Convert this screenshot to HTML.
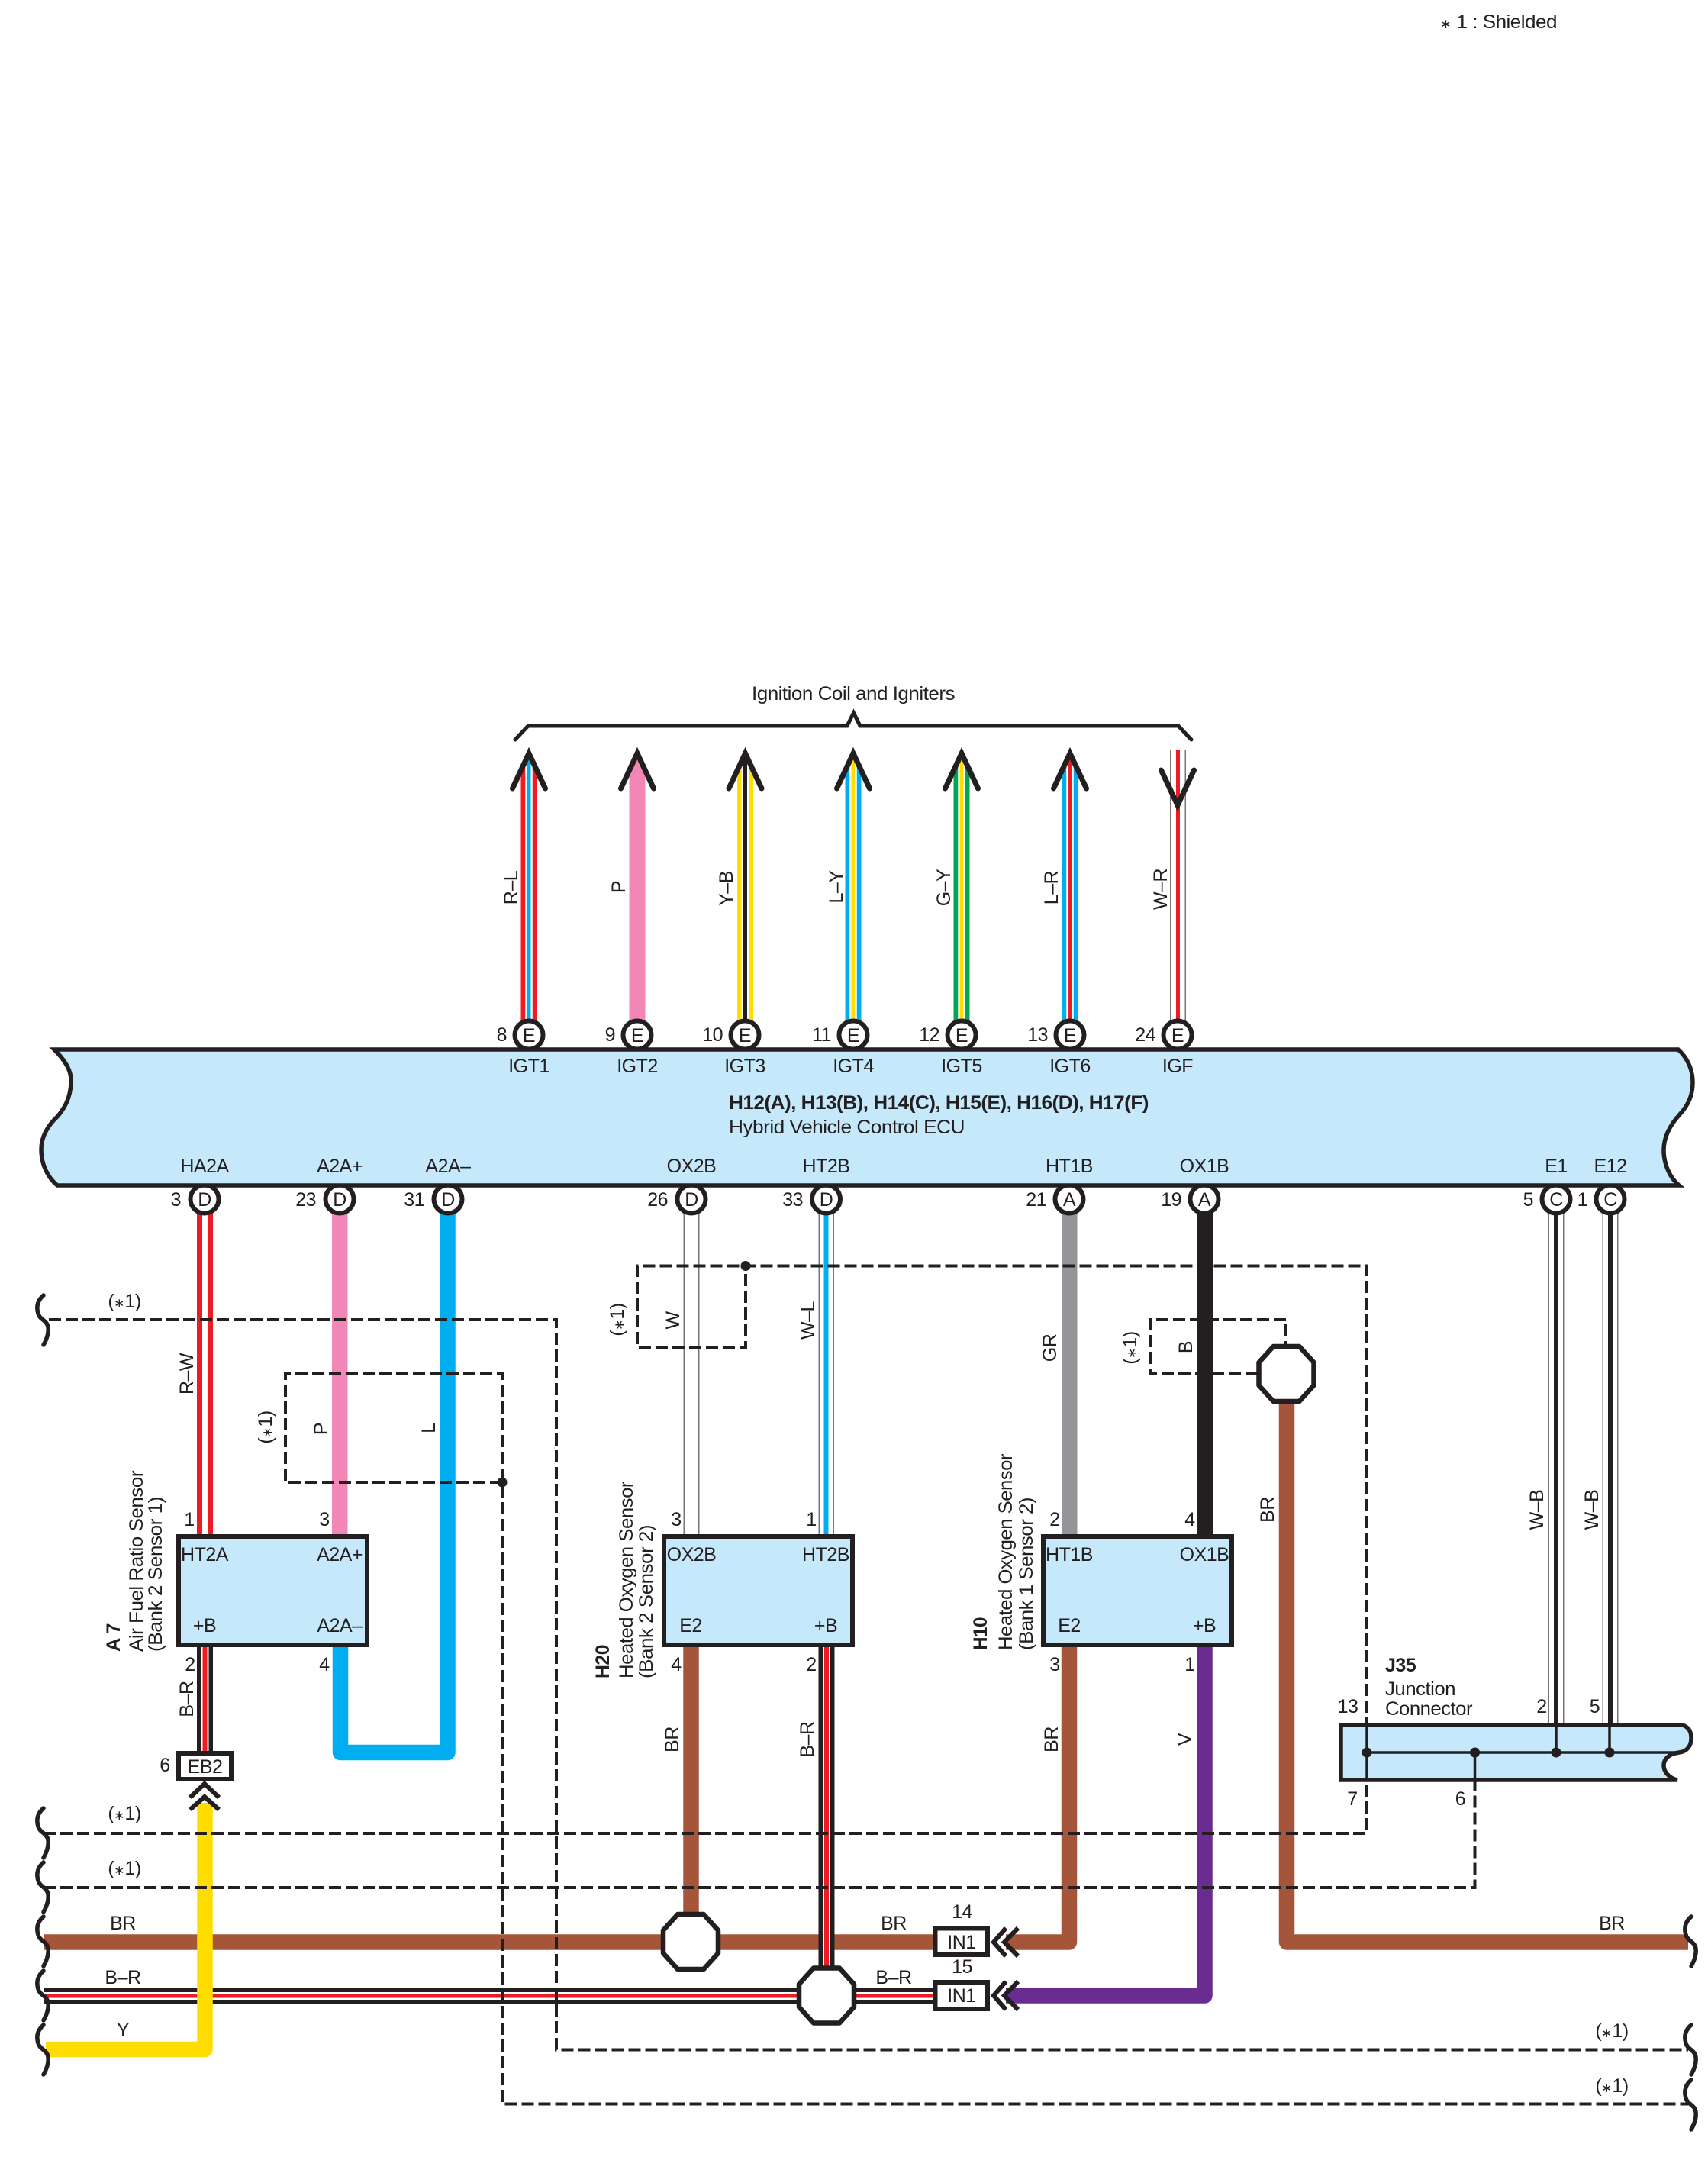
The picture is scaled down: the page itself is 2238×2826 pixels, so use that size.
<!DOCTYPE html>
<html lang="en"><head><meta charset="utf-8"><title>Wiring diagram</title>
<style>
html,body{margin:0;padding:0;background:#fff}
svg{display:block}
text{font-family:"Liberation Sans",Arial,sans-serif;font-size:25px;letter-spacing:-.5px;fill:#231f20}
.m{text-anchor:middle}
.e{text-anchor:end}
.b{font-weight:bold}
.bx{fill:#c5e8fb;stroke:#231f20;stroke-width:6}
.d{fill:none;stroke:#231f20;stroke-width:4;stroke-dasharray:16 6}
.c{fill:#fff;stroke:#231f20;stroke-width:6}
.o{fill:#fff;stroke:#231f20;stroke-width:6.5;stroke-linejoin:round}
.k{fill:none;stroke:#231f20;stroke-width:6}
.a{fill:none;stroke:#231f20;stroke-width:7;stroke-linecap:round;stroke-linejoin:miter}
.w{fill:none;stroke:#231f20;stroke-width:5.5;stroke-linecap:round}
.t{fill:none;stroke-width:20.5;stroke-linejoin:round}
.s{font-size:17px;letter-spacing:0}
</style></head><body>
<svg xmlns="http://www.w3.org/2000/svg" width="2238" height="2826" viewBox="0 0 2238 2826">
<defs>
<clipPath id="ac"><polygon points="0,985 24,1037 24,1345 -24,1345 -24,1037"/></clipPath>
<path id="wv" d="M9 0C2 6 -1 14 2 24C4 32 14 33 15 42C16 50 13 58 9 65" class="w"/>
<polyline id="ua" points="-21.5,1033 0,987 21.5,1033" class="a" stroke-miterlimit="10"/>
<polygon id="oc" points="-17,-36 17,-36 36,-15 36,15 17,36 -17,36 -36,15 -36,-15" class="o"/>
</defs>
<rect width="2238" height="2826" fill="#fff"/>

<!-- note -->
<text x="1887" y="37" textLength="153" lengthAdjust="spacingAndGlyphs" xml:space="preserve" style="white-space:pre"><tspan class="s">∗</tspan> 1 : Shielded</text>

<!-- title brace -->
<text x="1118" y="917" class="m" textLength="266" lengthAdjust="spacingAndGlyphs">Ignition Coil and Igniters</text>
<path d="M675 969L692 951H1110L1118.5 934L1127 951H1544L1561 969" class="k" stroke-linecap="round" style="stroke-width:5"/>

<!-- top wires -->
<g transform="translate(693,0)" clip-path="url(#ac)"><rect x="-10.5" y="980" width="21" height="360" fill="#ed1c24"/><rect x="-4.75" y="980" width="9.5" height="360" fill="#fff"/><rect x="-2.5" y="980" width="5" height="360" fill="#00aeef"/></g>
<g transform="translate(835,0)" clip-path="url(#ac)"><rect x="-10.5" y="980" width="21" height="360" fill="#f287b7"/></g>
<g transform="translate(976.5,0)" clip-path="url(#ac)"><rect x="-10.5" y="980" width="21" height="360" fill="#ffdd00"/><rect x="-4.75" y="980" width="9.5" height="360" fill="#fff"/><rect x="-2.5" y="980" width="5" height="360" fill="#231f20"/></g>
<g transform="translate(1118,0)" clip-path="url(#ac)"><rect x="-10.5" y="980" width="21" height="360" fill="#00aeef"/><rect x="-4.75" y="980" width="9.5" height="360" fill="#fff"/><rect x="-2.5" y="980" width="5" height="360" fill="#ffdd00"/></g>
<g transform="translate(1260,0)" clip-path="url(#ac)"><rect x="-10.5" y="980" width="21" height="360" fill="#00a651"/><rect x="-4.75" y="980" width="9.5" height="360" fill="#fff"/><rect x="-2.5" y="980" width="5" height="360" fill="#ffdd00"/></g>
<g transform="translate(1402,0)" clip-path="url(#ac)"><rect x="-10.5" y="980" width="21" height="360" fill="#00aeef"/><rect x="-4.75" y="980" width="9.5" height="360" fill="#fff"/><rect x="-2.5" y="980" width="5" height="360" fill="#ed1c24"/></g>
<rect x="1533" y="983" width="1.5" height="357" fill="#777"/><rect x="1552.5" y="983" width="1.5" height="357" fill="#777"/><rect x="1541" y="983" width="5" height="357" fill="#ed1c24"/>
<use href="#ua" x="693"/><use href="#ua" x="835"/><use href="#ua" x="976.5"/><use href="#ua" x="1118"/><use href="#ua" x="1260"/><use href="#ua" x="1402"/>
<polyline points="1521.5,1009 1543,1055 1564.5,1009" class="a" stroke-miterlimit="10"/>

<!-- top wire labels -->
<g class="m">
<text transform="translate(678,1163) rotate(-90)">R–L</text>
<text transform="translate(819,1162) rotate(-90)">P</text>
<text transform="translate(960,1164) rotate(-90)">Y–B</text>
<text transform="translate(1104,1162) rotate(-90)">L–Y</text>
<text transform="translate(1245,1163) rotate(-90)">G–Y</text>
<text transform="translate(1386,1163) rotate(-90)">L–R</text>
<text transform="translate(1529,1165) rotate(-90)">W–R</text>
</g>

<!-- bottom wires from ECU -->
<rect x="258" y="1585" width="7" height="428" fill="#ed1c24"/><rect x="272" y="1585" width="7" height="428" fill="#ed1c24"/>
<rect x="435" y="1585" width="20.5" height="428" fill="#f287b7"/>
<path d="M446 2150V2296H586.5V1585" class="t" stroke="#00aeef"/>
<rect x="895.5" y="1585" width="1.5" height="428" fill="#777"/><rect x="915" y="1585" width="1.5" height="428" fill="#777"/>
<rect x="1072.5" y="1585" width="1.5" height="428" fill="#777"/><rect x="1091.5" y="1585" width="1.5" height="428" fill="#777"/><rect x="1079.5" y="1585" width="6" height="428" fill="#00aeef"/>
<rect x="1391" y="1585" width="20.5" height="428" fill="#939598"/>
<rect x="1568.5" y="1585" width="20.5" height="428" fill="#231f20"/>
<rect x="2028.5" y="1585" width="1.5" height="673" fill="#777"/><rect x="2048" y="1585" width="1.5" height="673" fill="#777"/><rect x="2036" y="1585" width="6" height="673" fill="#231f20"/>
<rect x="2099.5" y="1585" width="1.5" height="673" fill="#777"/><rect x="2119" y="1585" width="1.5" height="673" fill="#777"/><rect x="2107" y="1585" width="6" height="673" fill="#231f20"/>

<!-- lower wires -->
<path d="M905.5 2150V2520" class="t" stroke="#a5563a"/>
<path d="M58 2544.5H1230" class="t" stroke="#a5563a"/>
<path d="M1318 2544.5H1401V2150" class="t" stroke="#a5563a"/>
<path d="M1686 1830V2544.5H2212" class="t" stroke="#a5563a"/>
<path d="M1318 2614.5H1578.5V2150" class="t" stroke="#6b2c91"/>
<!-- B-R horizontal -->
<rect x="58" y="2604" width="1170" height="22" fill="#231f20"/><rect x="58" y="2610" width="1170" height="10" fill="#fff"/><rect x="58" y="2612" width="1170" height="5.5" fill="#ed1c24"/>
<!-- B-R vertical H20 -->
<rect x="1072.5" y="2150" width="21" height="440" fill="#231f20"/><rect x="1078" y="2150" width="10" height="440" fill="#fff"/><rect x="1080" y="2150" width="6" height="440" fill="#ed1c24"/>
<!-- B-R A7 -->
<rect x="258" y="2150" width="21" height="148" fill="#231f20"/><rect x="263.5" y="2150" width="10" height="148" fill="#fff"/><rect x="265.5" y="2150" width="6" height="148" fill="#ed1c24"/>
<!-- yellow -->
<path d="M60 2685H268.5V2362" class="t" stroke="#ffdd00"/>

<!-- dashes -->
<path d="M64 1729H729V2685.5H2212" class="d"/>
<path d="M658 1942H374V1799H658V2756.5H2212" class="d"/>
<path d="M57 2402H1791V1658.5H835V1765H977V1658.5" class="d"/>
<path d="M57 2473H1932.5V2334" class="d"/>
<path d="M1648 1800H1507V1729H1685V1762" class="d"/>

<!-- ECU circles -->
<g class="c">
<circle cx="693" cy="1356" r="18.5"/><circle cx="835" cy="1356" r="18.5"/><circle cx="976" cy="1356" r="18.5"/><circle cx="1118" cy="1356" r="18.5"/><circle cx="1260" cy="1356" r="18.5"/><circle cx="1402" cy="1356" r="18.5"/><circle cx="1543" cy="1356" r="18.5"/>
<circle cx="268" cy="1571" r="18.5"/><circle cx="445" cy="1571" r="18.5"/><circle cx="587" cy="1571" r="18.5"/><circle cx="906" cy="1571" r="18.5"/><circle cx="1082.5" cy="1571" r="18.5"/><circle cx="1401" cy="1571" r="18.5"/><circle cx="1578" cy="1571" r="18.5"/><circle cx="2039" cy="1571" r="18.5"/><circle cx="2110" cy="1571" r="18.5"/>
</g>
<!-- ECU band -->
<path d="M71 1375H2199C2210 1385 2218 1400 2218 1418C2218 1435 2212 1448 2201 1460C2190 1472 2180 1488 2180 1507C2180 1525 2188 1543 2200 1553H75C62 1542 54 1525 54 1506C54 1490 62 1475 76 1462C84 1452 92 1440 93 1419C94 1405 88 1392 71 1375Z" class="bx" style="stroke-width:5.5"/>

<g class="m">
<text x="693" y="1365">E</text><text x="835" y="1365">E</text><text x="976" y="1365">E</text><text x="1118" y="1365">E</text><text x="1260" y="1365">E</text><text x="1402" y="1365">E</text><text x="1543" y="1365">E</text>
<text x="693" y="1405">IGT1</text><text x="835" y="1405">IGT2</text><text x="976" y="1405">IGT3</text><text x="1118" y="1405">IGT4</text><text x="1260" y="1405">IGT5</text><text x="1402" y="1405">IGT6</text><text x="1543" y="1405">IGF</text>
<text x="268" y="1536">HA2A</text><text x="445" y="1536">A2A+</text><text x="587" y="1536">A2A–</text><text x="906" y="1536">OX2B</text><text x="1082.5" y="1536">HT2B</text><text x="1401" y="1536">HT1B</text><text x="1578" y="1536">OX1B</text><text x="2039" y="1536">E1</text><text x="2110" y="1536">E12</text>
<text x="268" y="1580">D</text><text x="445" y="1580">D</text><text x="587" y="1580">D</text><text x="906" y="1580">D</text><text x="1082.5" y="1580">D</text><text x="1401" y="1580">A</text><text x="1578" y="1580">A</text><text x="2039" y="1580">C</text><text x="2110" y="1580">C</text>
</g>
<g class="e">
<text x="664" y="1364">8</text><text x="806" y="1364">9</text><text x="947" y="1364">10</text><text x="1089" y="1364">11</text><text x="1231" y="1364">12</text><text x="1373" y="1364">13</text><text x="1514" y="1364">24</text>
<text x="237" y="1580">3</text><text x="414" y="1580">23</text><text x="556" y="1580">31</text><text x="875" y="1580">26</text><text x="1052" y="1580">33</text><text x="1371" y="1580">21</text><text x="1548" y="1580">19</text><text x="2009" y="1580">5</text><text x="2080" y="1580">1</text>
</g>
<text x="955" y="1453" class="b" textLength="550" lengthAdjust="spacingAndGlyphs">H12(A), H13(B), H14(C), H15(E), H16(D), H17(F)</text>
<text x="955" y="1485" textLength="309" lengthAdjust="spacingAndGlyphs">Hybrid Vehicle Control ECU</text>

<!-- sensor boxes -->
<rect x="234" y="2013" width="247" height="142" class="bx"/>
<rect x="870" y="2013" width="247" height="142" class="bx"/>
<rect x="1367" y="2013" width="247" height="142" class="bx"/>
<g class="m">
<text x="268" y="2045">HT2A</text><text x="445" y="2045">A2A+</text><text x="268" y="2138">+B</text><text x="445" y="2138">A2A–</text>
<text x="906" y="2045">OX2B</text><text x="1082" y="2045">HT2B</text><text x="905" y="2138">E2</text><text x="1082" y="2138">+B</text>
<text x="1401" y="2045">HT1B</text><text x="1578" y="2045">OX1B</text><text x="1401" y="2138">E2</text><text x="1578" y="2138">+B</text>
<text x="248" y="1999">1</text><text x="425" y="1999">3</text><text x="249" y="2189">2</text><text x="425" y="2189">4</text>
<text x="886" y="1999">3</text><text x="1063" y="1999">1</text><text x="886" y="2189">4</text><text x="1063" y="2189">2</text>
<text x="1382" y="1999">2</text><text x="1559" y="1999">4</text><text x="1382" y="2189">3</text><text x="1559" y="2189">1</text>
</g>

<!-- sensor side labels -->
<text transform="translate(157,2164) rotate(-90)" class="b" textLength="37" lengthAdjust="spacingAndGlyphs">A 7</text>
<text transform="translate(187,2164) rotate(-90)" textLength="237" lengthAdjust="spacingAndGlyphs">Air Fuel Ratio Sensor</text>
<text transform="translate(212,2164) rotate(-90)" textLength="203" lengthAdjust="spacingAndGlyphs">(Bank 2 Sensor 1)</text>
<text transform="translate(798,2199) rotate(-90)" class="b" textLength="44" lengthAdjust="spacingAndGlyphs">H20</text>
<text transform="translate(829,2199) rotate(-90)" textLength="258" lengthAdjust="spacingAndGlyphs">Heated Oxygen Sensor</text>
<text transform="translate(855,2199) rotate(-90)" textLength="201" lengthAdjust="spacingAndGlyphs">(Bank 2 Sensor 2)</text>
<text transform="translate(1293,2162) rotate(-90)" class="b" textLength="43" lengthAdjust="spacingAndGlyphs">H10</text>
<text transform="translate(1326,2162) rotate(-90)" textLength="257" lengthAdjust="spacingAndGlyphs">Heated Oxygen Sensor</text>
<text transform="translate(1353,2162) rotate(-90)" textLength="200" lengthAdjust="spacingAndGlyphs">(Bank 1 Sensor 2)</text>

<!-- rotated wire labels -->
<g class="m">
<text transform="translate(253,1800) rotate(-90)">R–W</text>
<text transform="translate(429,1872) rotate(-90)">P</text>
<text transform="translate(570,1871) rotate(-90)">L</text>
<text transform="translate(890,1730) rotate(-90)">W</text>
<text transform="translate(1067,1730) rotate(-90)">W–L</text>
<text transform="translate(1384,1766) rotate(-90)">GR</text>
<text transform="translate(1562,1765) rotate(-90)">B</text>
<text transform="translate(1669,1978) rotate(-90)">BR</text>
<text transform="translate(2022,1978) rotate(-90)">W–B</text>
<text transform="translate(2094,1978) rotate(-90)">W–B</text>
<text transform="translate(253,2226) rotate(-90)">B–R</text>
<text transform="translate(889,2279) rotate(-90)">BR</text>
<text transform="translate(1066,2279) rotate(-90)">B–R</text>
<text transform="translate(1386,2279) rotate(-90)">BR</text>
<text transform="translate(1561,2279) rotate(-90)">V</text>
<text transform="translate(356,1870) rotate(-90)">(<tspan class="s">∗</tspan>1)</text>
<text transform="translate(817,1729) rotate(-90)">(<tspan class="s">∗</tspan>1)</text>
<text transform="translate(1489,1766) rotate(-90)">(<tspan class="s">∗</tspan>1)</text>
<text x="163" y="1713">(<tspan class="s">∗</tspan>1)</text>
<text x="163" y="2384">(<tspan class="s">∗</tspan>1)</text>
<text x="163" y="2456">(<tspan class="s">∗</tspan>1)</text>
<text x="2112" y="2669">(<tspan class="s">∗</tspan>1)</text>
<text x="2112" y="2741">(<tspan class="s">∗</tspan>1)</text>
<text x="161" y="2528">BR</text>
<text x="161" y="2599">B–R</text>
<text x="161" y="2668">Y</text>
<text x="1171" y="2528">BR</text>
<text x="1171" y="2599">B–R</text>
<text x="2112" y="2528">BR</text>
</g>

<!-- dots -->
<circle cx="658" cy="1942" r="6.5" fill="#231f20"/>
<circle cx="977" cy="1658.5" r="6.5" fill="#231f20"/>

<!-- octagons -->
<use href="#oc" x="905" y="2544"/>
<use href="#oc" x="1083" y="2614.5"/>
<use href="#oc" x="1685.5" y="1800"/>

<!-- connectors -->
<rect x="234" y="2297" width="69" height="34" fill="#fff" stroke="#231f20" stroke-width="6"/>
<text x="268.5" y="2323" class="m">EB2</text>
<text x="216" y="2321" class="m">6</text>
<polyline points="249,2355 268,2337 287,2355" class="k"/>
<polyline points="249,2371 268,2354 287,2371" class="k"/>

<rect x="1225.5" y="2526.5" width="68.5" height="34.5" fill="#fff" stroke="#231f20" stroke-width="6"/>
<rect x="1225.5" y="2597" width="68.5" height="35" fill="#fff" stroke="#231f20" stroke-width="6"/>
<text x="1260" y="2553" class="m">IN1</text>
<text x="1260" y="2623" class="m">IN1</text>
<text x="1260.5" y="2513" class="m">14</text>
<text x="1260.5" y="2585" class="m">15</text>
<polyline points="1318,2526 1302,2544.5 1318,2563" class="k"/>
<polyline points="1334,2526 1316,2544.5 1334,2563" class="k"/>
<polyline points="1318,2596 1302,2614.5 1318,2633" class="k"/>
<polyline points="1334,2596 1316,2614.5 1334,2633" class="k"/>

<!-- J35 -->
<path d="M1757 2260H2204C2212 2262 2216 2268 2216 2277C2216 2288 2210 2295 2200 2296C2186 2298 2180 2305 2180 2313C2180 2322 2188 2330 2198 2332H1757Z" class="bx" style="stroke-width:5.5"/>
<path d="M1791 2260V2332M1932.5 2296V2332M2039 2260V2296M2109 2260V2296M1791 2296H2200" fill="none" stroke="#231f20" stroke-width="3.5"/>
<g fill="#231f20"><circle cx="1791" cy="2296" r="6.5"/><circle cx="1932.5" cy="2296" r="6.5"/><circle cx="2039" cy="2296" r="6.5"/><circle cx="2109" cy="2296" r="6.5"/></g>
<text x="1815" y="2190" class="b">J35</text>
<text x="1815" y="2221" textLength="92" lengthAdjust="spacingAndGlyphs">Junction</text>
<text x="1815" y="2247" textLength="114" lengthAdjust="spacingAndGlyphs">Connector</text>
<g class="m"><text x="1766" y="2244">13</text><text x="2020" y="2244">2</text><text x="2089.5" y="2244">5</text><text x="1772" y="2365">7</text><text x="1913.5" y="2365">6</text></g>

<!-- wavy break marks -->
<use href="#wv" x="48" y="1697"/>
<use href="#wv" x="48" y="2369"/><use href="#wv" x="48" y="2440"/><use href="#wv" x="48" y="2511"/><use href="#wv" x="48" y="2582"/><use href="#wv" x="48" y="2653"/>
<use href="#wv" x="2207" y="2511"/><use href="#wv" x="2207" y="2653"/><use href="#wv" x="2207" y="2725"/>
</svg>
</body></html>
